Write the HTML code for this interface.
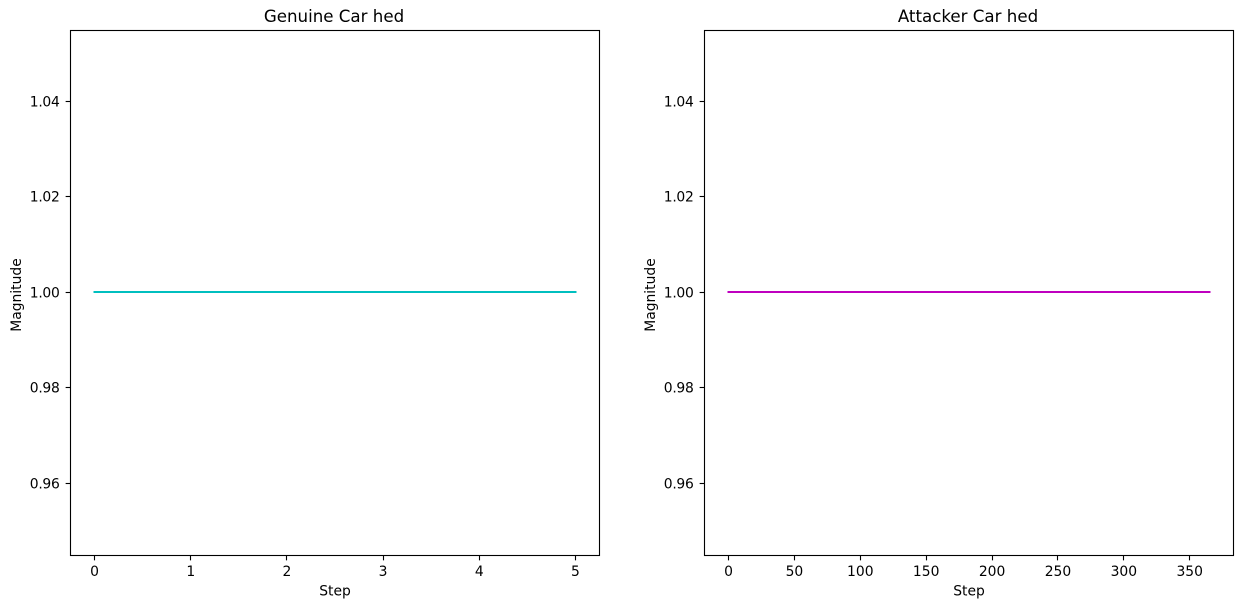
<!DOCTYPE html>
<html lang="en">
<head>
<meta charset="utf-8">
<title>Genuine and Attacker Car hed</title>
<style>
html,body{margin:0;padding:0;background:#fff;}
svg{display:block;}
text{font-family:"DejaVu Sans","Liberation Sans",sans-serif;fill:#000;}
</style>
</head>
<body>
<svg id="figure" width="1242" height="608" viewBox="0 0 1242 608" xmlns="http://www.w3.org/2000/svg"></svg>
<script>
const genuineSteps = [0, 1, 2, 3, 4, 5];
const genuineValues = [1, 1, 1, 1, 1, 1];
const attackerSteps = [0, 50, 100, 150, 200, 250, 300, 350, 365];
const attackerValues = [1, 1, 1, 1, 1, 1, 1, 1, 1];
const genuineXTicks = [0, 1, 2, 3, 4, 5];
const attackerXTicks = [0, 50, 100, 150, 200, 250, 300, 350];
const yTickValues = [0.96, 0.98, 1.00, 1.02, 1.04];
const yLimits = [0.945, 1.055];
const genuineTitle = 'Genuine Car hed';
const attackerTitle = 'Attacker Car hed';

const NS = 'http://www.w3.org/2000/svg';
const fig = document.getElementById('figure');

function make(parent, tag, attrs, text) {
  const el = document.createElementNS(NS, tag);
  for (const k in attrs) el.setAttribute(k, attrs[k]);
  if (text !== undefined) el.textContent = text;
  parent.appendChild(el);
  return el;
}

function drawPanel(key, box, xs, ys, xTicks, color, title, titleShift) {
  const g = make(fig, 'g', {});
  
  

  const minX = Math.min(...xs), maxX = Math.max(...xs);
  const pad = (maxX - minX) * 0.05;
  const xScale = v => box.left + (v - (minX - pad)) / ((maxX + pad) - (minX - pad)) * (box.right - box.left);
  const scaleTop = 29.9, scaleBottom = 555;
  const yScale = v => scaleBottom - (v - yLimits[0]) / (yLimits[1] - yLimits[0]) * (scaleBottom - scaleTop);

  const series = make(g, 'polyline', {
    points: xs.map((x, i) => xScale(x) + ',' + Math.round(yScale(ys[i]))).join(' '),
    fill: 'none', stroke: color, 'stroke-width': 2.08, 'stroke-linecap': 'square'
  });
  
  

  const frame = make(g, 'rect', {
    x: box.left, y: box.top, width: box.right - box.left, height: box.bottom - box.top,
    fill: 'none', stroke: '#000', 'stroke-width': 1.11
  });
  
  

  xTicks.forEach(t => {
    const x = xScale(t);
    const sx = Math.floor(x) + 0.5;
    const tick = make(g, 'line', {x1: sx, x2: sx, y1: box.bottom, y2: box.bottom + 4.86, stroke: '#000', 'stroke-width': 1.11});
    
    
    const label = make(g, 'text', {x: x, y: box.bottom + 20.3, 'text-anchor': 'middle', 'font-size': 13.89}, String(t));
    
    
  });

  yTickValues.forEach(t => {
    const y = Math.floor(yScale(t)) + 0.5;
    const tick = make(g, 'line', {x1: box.left - 4.86, x2: box.left, y1: y, y2: y, stroke: '#000', 'stroke-width': 1.11});
    
    
    const label = make(g, 'text', {x: box.left - 11, y: y + 5.2, 'text-anchor': 'end', 'font-size': 13.89, 'letter-spacing': '-0.3'}, t.toFixed(2));
    
    
  });

  const cx = (box.left + box.right) / 2;
  const titleEl = make(g, 'text', {x: cx + titleShift, y: 22, 'text-anchor': 'middle', 'font-size': 16.67}, title);
  
  

  const xTitle = make(g, 'text', {x: cx, y: 595.7, 'text-anchor': 'middle', 'font-size': 13.89}, 'Step');
  
  

  const yx = box.left - 49.3, yy = 295;
  const yTitle = make(g, 'text', {x: yx, y: yy, 'text-anchor': 'middle', 'font-size': 13.89, transform: 'rotate(-90 ' + yx + ' ' + yy + ')'}, 'Magnitude');
  
  
}

drawPanel('genuine', {left: 70.5, right: 599.5, top: 30.5, bottom: 555.5}, genuineSteps, genuineValues, genuineXTicks, '#00bfbf', genuineTitle, -1);
drawPanel('attacker', {left: 704.5, right: 1233.5, top: 30.5, bottom: 555.5}, attackerSteps, attackerValues, attackerXTicks, '#bf00bf', attackerTitle, -1);
</script>
</body>
</html>
